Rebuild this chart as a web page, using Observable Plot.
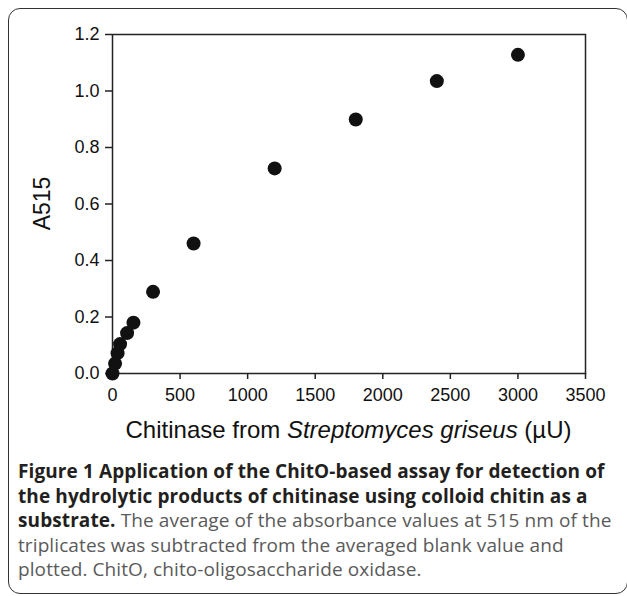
<!DOCTYPE html>
<html>
<head>
<meta charset="utf-8">
<script src="https://cdn.jsdelivr.net/npm/d3@7"></script>
<script src="https://cdn.jsdelivr.net/npm/@observablehq/plot@0.6"></script>
<style>
  html, body { margin: 0; padding: 0; background: #fff; width: 627px; height: 596px; overflow: hidden; }
  #frame { position: absolute; left: 8px; top: 8px; width: 620px; height: 586px; border: 1.5px solid #333; border-radius: 12px; box-sizing: border-box; }
  #chart { position: absolute; left: 0; top: 0; }
  #caption { position: absolute; left: 18px; top: 459px; width: 605px; font-family: "Open Sans", "Noto Sans", sans-serif; font-size: 19px; line-height: 24.6px; color: #5a5a5a; letter-spacing: 0.1px; white-space: nowrap; }
  #caption b { color: #231f20; font-weight: 700; }
</style>
</head>
<body>
<div id="frame"></div>
<div id="chart"></div>
<div id="caption"><b>Figure 1 Application of the ChitO-based assay for detection of<br>the hydrolytic products of chitinase using colloid chitin as a<br>substrate.</b> The average of the absorbance values at 515 nm of the<br>triplicates was subtracted from the averaged blank value and<br>plotted. ChitO, chito-oligosaccharide oxidase.</div>
<script>
const doses = [0, 19, 37.5, 56, 108, 155, 300, 600, 1200, 1800, 2400, 3000];
const a515 = [0.0, 0.035, 0.072, 0.104, 0.143, 0.18, 0.289, 0.46, 0.726, 0.899, 1.035, 1.128];
const xTicks = [0, 500, 1000, 1500, 2000, 2500, 3000, 3500];
const yTicks = [0.0, 0.2, 0.4, 0.6, 0.8, 1.0, 1.2];
const xTitleParts = [["Chitinase from ", "normal"], ["Streptomyces griseus", "italic"], [" (µU)", "normal"]];
const yTitle = "A515";

const data = doses.map((d, i) => ({dose: d, abs: a515[i]}));

const W = 627, H = 440;
const mL = 112, mR = 42, mT = 34, mB = H - 373;

const chart = Plot.plot({
  width: W, height: H,
  marginLeft: mL, marginRight: mR, marginTop: mT, marginBottom: mB,
  style: {fontFamily: "'Liberation Sans', Arial, sans-serif", fontSize: "18px", color: "#111", background: "transparent", overflow: "visible"},
  x: {domain: [0, 3500], label: null},
  y: {domain: [0, 1.2], label: null},
  marks: [
    Plot.axisX({ticks: xTicks, tickSize: 6, tickPadding: 9, tickFormat: d => String(d), label: null, stroke: "#222", strokeWidth: 1.5, fontSize: 18}),
    Plot.axisY({ticks: yTicks, tickSize: 7, tickPadding: 6, tickFormat: d3.format(".1f"), label: null, stroke: "#222", strokeWidth: 1.5, fontSize: 18}),
    Plot.frame({stroke: "#222", strokeWidth: 1.5}),
    Plot.dot(data, {x: "dose", y: "abs", r: 7, fill: "#111", stroke: "none"})
  ]
});
document.getElementById("chart").appendChild(chart);

const svg = d3.select(chart);
const cx = (mL + (W - mR)) / 2;
const t = svg.append("text")
  .attr("x", cx).attr("y", 430).attr("dy", "0.35em")
  .attr("text-anchor", "middle")
  .attr("font-family", "'Liberation Sans', Arial, sans-serif")
  .attr("font-size", 24).attr("fill", "#111");
xTitleParts.forEach(([s, st]) => t.append("tspan").attr("font-style", st).text(s));

svg.append("text")
  .attr("transform", `translate(42,${(mT + 373) / 2}) rotate(-90)`)
  .attr("dy", "0.35em")
  .attr("text-anchor", "middle")
  .attr("font-family", "'Liberation Sans', Arial, sans-serif")
  .attr("font-size", 23).attr("fill", "#111")
  .text(yTitle);
</script>
</body>
</html>
